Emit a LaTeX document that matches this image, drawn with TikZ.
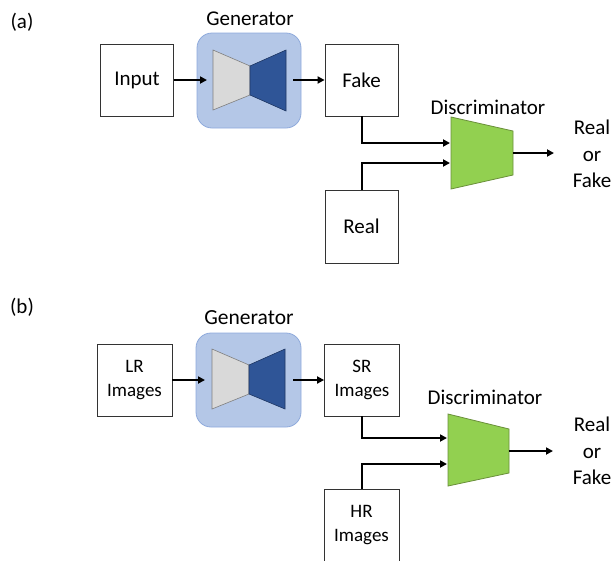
\documentclass[tikz,border=0pt]{standalone}
\usepackage{fontspec}
\setmainfont{Carlito}
\usetikzlibrary{arrows.meta}
\definecolor{genfill}{HTML}{B4C7E7}
\definecolor{genborder}{HTML}{8FAADC}
\definecolor{encgray}{HTML}{D9D9D9}
\definecolor{encborder}{HTML}{7F7F7F}
\definecolor{decblue}{HTML}{2F5597}
\definecolor{decborder}{HTML}{203864}
\definecolor{discgreen}{HTML}{92D050}
\definecolor{discborder}{HTML}{6A8F3A}
\begin{document}
\begin{tikzpicture}[x=1pt,y=-1pt,
  txt/.style={font=\fontsize{21}{25}\selectfont, inner sep=0pt, align=center},
  boxb/.style={draw=black!80, line width=0.8pt, fill=white, minimum width=73pt, minimum height=72pt, inner sep=0pt, align=center, font=\fontsize{21}{25}\selectfont},
  boxsm/.style={boxb, minimum width=75pt, font=\fontsize{19}{24}\selectfont},
  genbox/.style={draw=genborder, fill=genfill, rounded corners=15pt, minimum width=104pt, minimum height=95pt, line width=0.8pt, inner sep=0pt},
  enc/.style={fill=encgray, draw=encborder, line width=0.6pt},
  dec/.style={fill=decblue, draw=decborder, line width=0.6pt},
  disc/.style={fill=discgreen, draw=discborder, line width=0.8pt},
  conn/.style={line width=2pt, -{Triangle[length=7pt,width=7pt]}}
]
\useasboundingbox (0,0) rectangle (612,560);

% ---------- panel (a) ----------
\node[txt] (la) at (22,22) {(a)};
\node[boxb] (input) at (137,80) {Input};
\node[genbox] (gena) at (249,80.5) {};
\node[txt] (genla) at (250,19) {Generator};
\draw[enc] (213,50) -- (250,66) -- (250,95) -- (213,110) -- cycle;
\draw[dec] (250,66) -- (286,50) -- (286,111) -- (250,95) -- cycle;
\node[boxb] (fake) at (361.5,80) {Fake};
\node[boxb, minimum height=73pt] (real) at (361.5,226.5) {Real};
\draw[disc] (451,117) -- (513,131) -- (513,175) -- (451,189) -- cycle;
\node[txt] (discla) at (488,107) {Discriminator};
\node[txt, font=\fontsize{21}{26.5}\selectfont] (outa) at (592,154) {Real\\or\\Fake};
\coordinate (gainA) at (207,80);
\coordinate (gaoutA) at (293,80);
\coordinate (da1) at (450,143);
\coordinate (da2) at (450,163);
\coordinate (daout) at (513,153);
\coordinate (daend) at (554,153);
\draw[conn] (input.east) -- (gainA);
\draw[conn] (gaoutA) -- (fake.west);
\draw[conn] (fake.south) |- (da1);
\draw[conn] (real.north) |- (da2);
\draw[conn] (daout) -- (daend);

% ---------- panel (b) ----------
\node[txt] (lb) at (22,307) {(b)};
\node[boxsm] (lr) at (134.5,380) {LR\\Images};
\node[genbox, minimum width=105pt, minimum height=94pt] (genb) at (248.5,380) {};
\node[txt, font=\fontsize{21.5}{25}\selectfont] (genlb) at (249,318) {Generator};
\draw[enc] (212,349) -- (249,365) -- (249,394) -- (212,409) -- cycle;
\draw[dec] (249,365) -- (285,349) -- (285,409) -- (249,394) -- cycle;
\node[boxsm] (sr) at (362,380) {SR\\Images};
\node[boxsm] (hr) at (361.5,525) {HR\\Images};
\draw[disc] (448,414) -- (509,429) -- (509,473) -- (448,486) -- cycle;
\node[txt] (disclb) at (485,397) {Discriminator};
\node[txt, font=\fontsize{21}{26.5}\selectfont] (outb) at (592,451) {Real\\or\\Fake};
\coordinate (gainB) at (205,380);
\coordinate (gaoutB) at (293,380);
\coordinate (db1) at (447,438);
\coordinate (db2) at (447,464);
\coordinate (dbout) at (509,451);
\coordinate (dbend) at (553,451);
\draw[conn] (lr.east) -- (gainB);
\draw[conn] (gaoutB) -- (sr.west);
\draw[conn] (sr.south) |- (db1);
\draw[conn] (hr.north) |- (db2);
\draw[conn] (dbout) -- (dbend);
\end{tikzpicture}
\end{document}
